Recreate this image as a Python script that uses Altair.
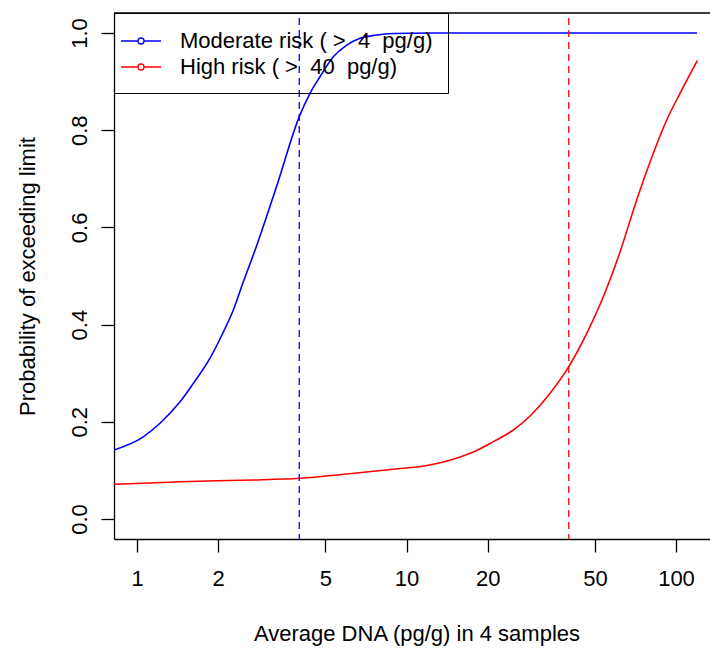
import altair as alt
import pandas as pd

# ---- data ----
series_names = ["Moderate risk ( >\u00a0 4\u00a0 pg/g)", "High risk ( >\u00a0 40\u00a0 pg/g)"]
series_colors = ["#0000FF", "#FF0000"]
limits = [4, 40]

mod_x = [0.822, 1.055, 1.217, 1.444, 1.618, 1.866, 2.121, 2.277, 2.480, 2.741,
         3.308, 4.0, 4.385, 4.775, 5.351, 6.000, 6.723, 7.754, 8.933, 12.22, 119.7]
mod_p = [0.142, 0.169, 0.197, 0.241, 0.279, 0.331, 0.392, 0.430, 0.488, 0.553,
         0.687, 0.828, 0.876, 0.910, 0.951, 0.975, 0.989, 0.996, 0.999, 1.0, 1.0]

high_x = [0.822, 1.814, 2.701, 4.026, 6.000, 8.933, 11.88, 13.70, 15.80, 18.22, 21.00,
          24.91, 28.73, 33.13, 40.0, 46.64, 53.73, 61.43, 71.47, 82.37, 92.37, 103.5, 120.0]
high_p = [0.0714, 0.0782, 0.0802, 0.0837, 0.0926, 0.1023, 0.1101, 0.1173, 0.1276, 0.1409, 0.1591,
          0.1831, 0.2119, 0.2500, 0.3134, 0.3821, 0.4574, 0.5432, 0.6564, 0.7525, 0.8210, 0.8759, 0.9430]

x_ticks = [1, 2, 5, 10, 20, 50, 100]
y_ticks = [0.0, 0.2, 0.4, 0.6, 0.8, 1.0]

x_title = "Average DNA (pg/g) in 4 samples"
y_title = "Probability of exceeding limit"

# ---- tables ----
curves = pd.concat([
    pd.DataFrame({"dna": mod_x, "prob": mod_p, "series": series_names[0],
                  "order": list(range(len(mod_x)))}),
    pd.DataFrame({"dna": high_x, "prob": high_p, "series": series_names[1],
                  "order": list(range(len(high_x)))}),
], ignore_index=True)
limits_df = pd.DataFrame({"dna": limits, "series": series_names})
frame_df = pd.DataFrame({"k": [0]})

FONT = "Liberation Sans"
FS = 22
W, H = 596, 526
LW = 1.3

x_scale = alt.Scale(type="log", domain=[0.8215, 133.7], nice=False)
y_scale = alt.Scale(domain=[-0.0412, 1.0412], nice=False, zero=False)
color_scale = alt.Scale(domain=series_names, range=series_colors)

legend_symbol = ("M-1.633,0H-0.245M0.245,0H1.633"
                 "M-0.245,0A0.245,0.245,0,1,1,0.245,0A0.245,0.245,0,1,1,-0.245,0")

legend = alt.Legend(
    title=None, orient="none", legendX=0, legendY=0, direction="vertical",
    padding=15, strokeColor="black", rowPadding=2,
    symbolType=legend_symbol, symbolSize=600, symbolStrokeWidth=LW,
    symbolFillColor="transparent", symbolOffset=-1,
    labelOffset=26, labelFont=FONT, labelFontSize=FS, labelColor="black",
    labelLimit=500,
)

x_axis = alt.Axis(
    values=x_ticks, format="d", title=x_title,
    titleFont=FONT, titleFontSize=FS, titleFontWeight="normal", titleColor="black",
    titleX=302.5, titleY=101.5, titleBaseline="alphabetic", titleAlign="center",
    grid=False, tickSize=13, tickColor="black", tickWidth=LW,
    domainColor="black", domainWidth=LW,
    labelFont=FONT, labelFontSize=FS, labelColor="black", labelPadding=16,
    labelFlush=False, labelOverlap=False,
)
y_axis = alt.Axis(
    values=y_ticks, format=".1f", title=y_title,
    titleFont=FONT, titleFontSize=FS, titleFontWeight="normal", titleColor="black",
    titleAngle=270, titleX=-80, titleY=263, titleBaseline="alphabetic", titleAlign="center",
    grid=False, tickSize=13, tickColor="black", tickWidth=LW,
    domainColor="black", domainWidth=LW,
    labelFont=FONT, labelFontSize=FS, labelColor="black",
    labelAngle=270, labelAlign="center", labelBaseline="alphabetic", labelPadding=15,
    labelFlush=False, labelOverlap=False,
)

lines = alt.Chart(curves).mark_line(strokeWidth=1.6, clip=True, interpolate="monotone").encode(
    x=alt.X("dna:Q", scale=x_scale, axis=x_axis),
    y=alt.Y("prob:Q", scale=y_scale, axis=y_axis),
    color=alt.Color("series:N", scale=color_scale, legend=legend, sort=series_names),
    order="order:Q",
)

rules = alt.Chart(limits_df).mark_rule(strokeDash=[7, 5], strokeDashOffset=7, strokeWidth=LW).encode(
    x=alt.X("dna:Q", scale=x_scale),
    color=alt.Color("series:N", scale=color_scale, legend=legend, sort=series_names),
)

top_edge = alt.Chart(frame_df).mark_rule(color="black", strokeWidth=LW).encode(
    x=alt.value(0), x2=alt.value(W), y=alt.value(0)
)

chart = alt.layer(lines, rules, top_edge).properties(
    width=W, height=H,
    autosize=alt.AutoSizeParams(type="none"),
    padding={"left": 114, "top": 13, "right": 0, "bottom": 109},
).configure_view(stroke=None).configure(background="white")

chart.save("out.html", embed_options={"renderer": "svg", "actions": False})
